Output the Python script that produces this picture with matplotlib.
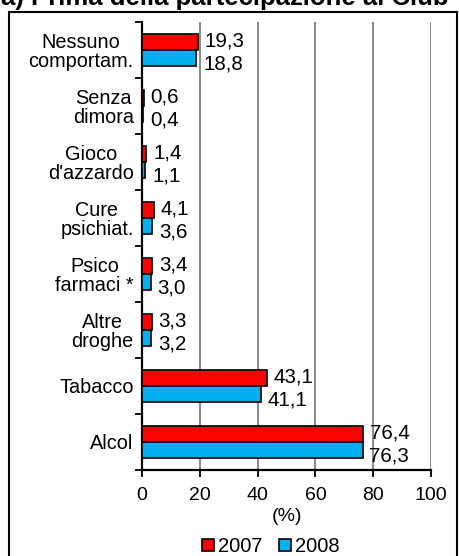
import matplotlib.pyplot as plt
import matplotlib.patches as mpatches
import numpy as np

plt.rcParams['font.family'] = ['Liberation Sans', 'DejaVu Sans']

categories = ['Nessuno\ncomportam.', 'Senza\ndimora', 'Gioco\nd\'azzardo', 'Cure\npsichiat.',
              'Psico\nfarmaci *', 'Altre\ndroghe', 'Tabacco', 'Alcol']
v2007 = [19.3, 0.6, 1.4, 4.1, 3.4, 3.3, 43.1, 76.4]
v2008 = [18.8, 0.4, 1.1, 3.6, 3.0, 3.2, 41.1, 76.3]
labels2007 = ['19,3', '0,6', '1,4', '4,1', '3,4', '3,3', '43,1', '76,4']
labels2008 = ['18,8', '0,4', '1,1', '3,6', '3,0', '3,2', '41,1', '76,3']

fs = 14

fig = plt.figure(figsize=(4.59, 5.56), dpi=100)
ax = fig.add_axes([0.3094, 0.1547, 0.6296, 0.8058])

y = np.arange(len(categories))
h = 0.286
ax.barh(y - h / 2, v2007, height=h, color='#FF0000', edgecolor='black', linewidth=1.2, label='2007', zorder=3)
ax.barh(y + h / 2, v2008, height=h, color='#00B0F0', edgecolor='black', linewidth=1.2, label='2008', zorder=3)

for i in range(len(categories)):
    ax.annotate(labels2007[i], (v2007[i], y[i] - h / 2), xytext=(5, 1), textcoords='offset points',
                va='center', ha='left', fontsize=14.8)
    ax.annotate(labels2008[i], (v2008[i], y[i] + h / 2), xytext=(5, -4), textcoords='offset points',
                va='center', ha='left', fontsize=14.8)

ax.set_xlim(0, 100)
ax.set_ylim(len(categories) - 0.5, -0.5)
ax.set_xticks([0, 20, 40, 60, 80, 100])
ax.set_xticklabels(['0', '20', '40', '60', '80', '100'], fontsize=fs)
ax.set_yticks(y)
ax.set_yticklabels(categories, fontsize=14.3, multialignment='center', linespacing=1.0)
ax.set_yticks(np.arange(-0.5, len(categories)), minor=True)
ax.tick_params(axis='y', which='major', length=0, pad=6)
ax.tick_params(axis='y', which='minor', length=5, width=1.3, direction='out')
ax.tick_params(axis='x', length=5, width=1.3, direction='out', pad=7)
ax.grid(axis='x', color='#808080', linewidth=1.3, zorder=0)
ax.spines['top'].set_visible(False)
ax.spines['right'].set_visible(False)
ax.spines['left'].set_linewidth(1.6)
ax.spines['bottom'].set_linewidth(1.6)
ax.set_xlabel('(%)', fontsize=fs, labelpad=3)

fig.legend(loc='center', bbox_to_anchor=(0.59, 0.017), ncol=2, frameon=False, fontsize=14.5,
           handlelength=0.6, handleheight=0.6, handletextpad=0.2, columnspacing=0.8,
           borderpad=0, borderaxespad=0)

fig.patches.append(mpatches.Rectangle((9 / 459, -0.01), 448 / 459, 1 - 12 / 556 + 0.01,
                                      transform=fig.transFigure, fill=False, edgecolor='black', linewidth=1.5))
fig.text(225 / 459, 1 - 5 / 556, 'a) Prima della partecipazione al Club', ha='center', va='baseline',
         fontsize=18.5, fontweight='bold')

fig.savefig('out.png', dpi=100)
